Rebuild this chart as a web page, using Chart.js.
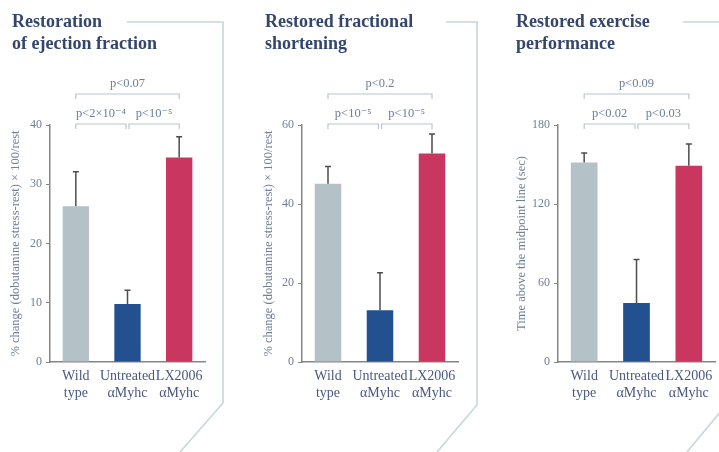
<!DOCTYPE html>
<html>
<head>
<meta charset="utf-8">
<script src="https://cdn.jsdelivr.net/npm/chart.js@4.4.1/dist/chart.umd.min.js"></script>
<style>
    html, body { margin: 0; padding: 0; background: #fff; }
    #wrap { position: relative; width: 719px; height: 452px; overflow: hidden; }
    canvas { position: absolute; top: 0; }
</style>
</head>
<body>
<div id="wrap">
    <canvas id="c1" width="240" height="452" style="left:0px"></canvas>
    <canvas id="c2" width="240" height="452" style="left:240px"></canvas>
    <canvas id="c3" width="240" height="452" style="left:480px"></canvas>
</div>
<script>
// Shared categories and bar colours
const categories = [['Wild', 'type'], ['Untreated', 'αMyhc'], ['LX2006', 'αMyhc']];
const barColors = ['#b4c2c7', '#23508f', '#c9365f'];

// Ejection fraction panel
const efTitle = ['Restoration', 'of ejection fraction'];
const efAxisTitle = '% change (dobutamine stress-rest) × 100/rest';
const efMean = [26.3, 9.8, 34.5];
const efErr = [5.8, 2.3, 3.5];
const efP = ['p<2×10⁻⁴', 'p<10⁻⁵', 'p<0.07'];
const efMax = 40, efStep = 10;

// Fractional shortening panel
const fsTitle = ['Restored fractional', 'shortening'];
const fsAxisTitle = '% change (dobutamine stress-rest) × 100/rest';
const fsMean = [45.1, 13.1, 52.8];
const fsErr = [4.4, 9.5, 4.9];
const fsP = ['p<10⁻⁵', 'p<10⁻⁵', 'p<0.2'];
const fsMax = 60, fsStep = 20;

// Exercise performance panel
const exTitle = ['Restored exercise', 'performance'];
const exAxisTitle = 'Time above the midpoint line (sec)';
const exMean = [151.5, 44.9, 149];
const exErr = [7.2, 33, 16.5];
const exP = ['p<0.02', 'p<0.03', 'p<0.09'];
const exMax = 180, exStep = 60;

const SERIF = '"Liberation Serif", "DejaVu Serif", serif';

// draws error bars, significance brackets, the panel title and frame line
function makeDecor(p) {
    return {
        id: 'decor',
        afterDatasetsDraw(chart) {
            const ctx = chart.ctx;
            const ys = chart.scales.y;
            const bars = chart.getDatasetMeta(0).data;
            const top = chart.chartArea.top;
            ctx.save();

            // error bars (upper only)
            ctx.strokeStyle = '#4d4d4d';
            ctx.lineWidth = 1.5;
            p.mean.forEach((m, i) => {
                const x = bars[i].x;
                const y0 = ys.getPixelForValue(m);
                const y1 = ys.getPixelForValue(m + p.err[i]);
                ctx.beginPath();
                ctx.moveTo(x, y0); ctx.lineTo(x, y1);
                ctx.moveTo(x - 3, y1); ctx.lineTo(x + 3, y1);
                ctx.stroke();
            });

            // brackets
            const cx = bars.map(b => b.x);
            const bracket = (x0, x1, y, label) => {
                ctx.strokeStyle = '#b7c6cc';
                ctx.lineWidth = 1.2;
                ctx.beginPath();
                ctx.moveTo(x0, y + 5); ctx.lineTo(x0, y); ctx.lineTo(x1, y); ctx.lineTo(x1, y + 5);
                ctx.stroke();
                ctx.fillStyle = '#6d7f96';
                ctx.font = '12.5px ' + SERIF;
                ctx.textAlign = 'center';
                ctx.textBaseline = 'middle';
                ctx.fillText(label, (x0 + x1) / 2, y - 10);
            };
            bracket(cx[0], cx[1] - 1.5, top - 1, p.pvals[0]);
            bracket(cx[1] + 1.5, cx[2], top - 1, p.pvals[1]);
            bracket(cx[0], cx[2], top - 31, p.pvals[2]);

            // title
            ctx.fillStyle = '#34466b';
            ctx.font = 'bold 18px ' + SERIF;
            ctx.textAlign = 'left';
            ctx.textBaseline = 'alphabetic';
            p.title.forEach((t, i) => ctx.fillText(t, p.titleX, 27 + i * 22));

            // frame line
            ctx.strokeStyle = '#c9d6d9';
            ctx.lineWidth = 1.6;
            ctx.beginPath();
            p.frame.forEach((pt, i) => i ? ctx.lineTo(pt[0], pt[1]) : ctx.moveTo(pt[0], pt[1]));
            ctx.stroke();
            ctx.restore();
        }
    };
}

function makePanel(id, p) {
    new Chart(document.getElementById(id), {
        type: 'bar',
        data: {
            labels: categories,
            datasets: [{
                data: p.mean,
                backgroundColor: barColors,
                borderWidth: 0,
                barPercentage: 0.51,
                categoryPercentage: 1
            }]
        },
        options: {
            responsive: false,
            animation: false,
            devicePixelRatio: 1,
            layout: { padding: { top: 125, right: p.right, left: 0, bottom: 0 } },
            plugins: { legend: { display: false }, tooltip: { enabled: false } },
            scales: {
                x: {
                    afterFit: s => { s.height = 90; },
                    grid: { drawOnChartArea: false, drawTicks: false },
                    border: { color: '#858585', width: 1.5 },
                    ticks: {
                        color: '#4a5880',
                        font: { family: SERIF, size: 14 },
                        padding: 6,
                        maxRotation: 0,
                        minRotation: 0,
                        autoSkip: false
                    }
                },
                y: {
                    min: 0,
                    max: p.max,
                    afterFit: s => { s.width = p.axisLeft; },
                    grid: { drawOnChartArea: false, drawTicks: true, tickLength: 4, color: '#858585', lineWidth: 1 },
                    border: { color: '#858585', width: 1.5 },
                    ticks: { stepSize: p.step, color: '#6f7f98', font: { family: SERIF, size: 12 }, padding: 4 },
                    title: {
                        display: true,
                        text: p.axisTitle,
                        color: '#6f7f98',
                        font: { family: SERIF, size: 12.5 },
                        padding: { top: p.titlePad, bottom: 0 }
                    }
                }
            }
        },
        plugins: [makeDecor(p)]
    });
}

makePanel('c1', {
    mean: efMean, err: efErr, pvals: efP, title: efTitle, axisTitle: efAxisTitle,
    max: efMax, step: efStep, axisLeft: 50, right: 35, titlePad: 8, titleX: 12,
    frame: [[127, 22], [223, 22], [223, 403], [180, 452]]
});
makePanel('c2', {
    mean: fsMean, err: fsErr, pvals: fsP, title: fsTitle, axisTitle: fsAxisTitle,
    max: fsMax, step: fsStep, axisLeft: 62, right: 22, titlePad: 21, titleX: 25,
    frame: [[206, 22], [237, 22], [237, 405], [197, 452]]
});
makePanel('c3', {
    mean: exMean, err: exErr, pvals: exP, title: exTitle, axisTitle: exAxisTitle,
    max: exMax, step: exStep, axisLeft: 78, right: 5, titlePad: 34, titleX: 36,
    frame: [[203, 22], [241, 22], [241, 411], [207, 452]]
});
</script>
</body>
</html>
